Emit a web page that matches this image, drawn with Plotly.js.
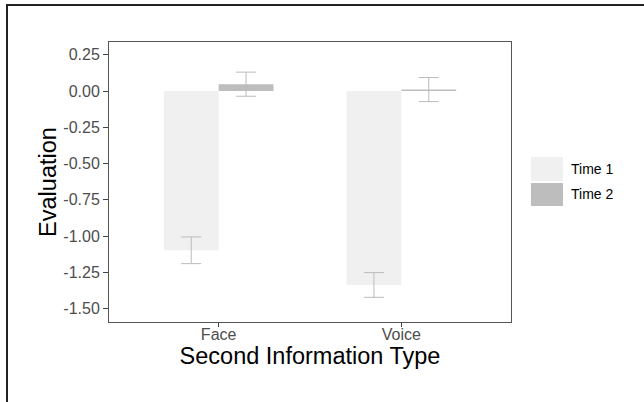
<!DOCTYPE html>
<html>
<head>
<meta charset="utf-8">
<script src="https://cdn.plot.ly/plotly-3.0.1.min.js"></script>
<style>
  html, body { margin: 0; padding: 0; background: #fff; }
  #chart { width: 644px; height: 402px; }
</style>
</head>
<body>
<div id="chart"></div>
<script>
const categories = ["Face", "Voice"];
const seriesNames = ["Time 1", "Time 2"];
const time1Values = [-1.097, -1.336];
const time1Errors = [0.092, 0.085];
const time2Values = [0.047, 0.01];
const time2Errors = [0.083, 0.083];
const yTickVals = [0.25, 0, -0.25, -0.5, -0.75, -1.0, -1.25, -1.5];
const yTickText = ["0.25", "0.00", "-0.25", "-0.50", "-0.75", "-1.00", "-1.25", "-1.50"];
const seriesColors = ["#f0f0f0", "#bdbdbd"];

const errStyle = {type: "data", visible: true, thickness: 1, width: 10, color: "#bbbbbb"};

const traces = [
  {
    type: "bar", name: seriesNames[0], x: categories, y: time1Values,
    marker: {color: seriesColors[0], line: {width: 0}},
    error_y: Object.assign({array: time1Errors}, errStyle),
    showlegend: false, hoverinfo: "x+y"
  },
  {
    type: "bar", name: seriesNames[1], x: categories, y: time2Values,
    marker: {color: seriesColors[1], line: {width: 0}},
    error_y: Object.assign({array: time2Errors}, errStyle),
    showlegend: false, hoverinfo: "x+y"
  }
];

const W = 644, H = 402;
const mL = 109, mR = 133, mT = 42, mB = 80;
const pw = W - mL - mR, ph = H - mT - mB;
const px = v => (v - mL) / pw;
const py = v => (H - mB - v) / ph;

const shapes = [
  {type: "line", xref: "paper", yref: "paper", x0: px(7), x1: px(7), y0: py(402), y1: py(5), line: {color: "#222", width: 2}},
  {type: "line", xref: "paper", yref: "paper", x0: px(6), x1: px(644), y0: py(5), y1: py(5), line: {color: "#222", width: 2}},
  {type: "rect", xref: "paper", yref: "paper", x0: px(531), x1: px(563), y0: py(181), y1: py(157), fillcolor: seriesColors[0], line: {width: 0}},
  {type: "rect", xref: "paper", yref: "paper", x0: px(531), x1: px(563), y0: py(206), y1: py(183), fillcolor: seriesColors[1], line: {width: 0}}
];

const legendFont = {family: "Liberation Sans, Arial, sans-serif", size: 14, color: "#000"};
const annotations = [
  {xref: "paper", yref: "paper", x: px(569), y: py(169), text: seriesNames[0], showarrow: false, xanchor: "left", yanchor: "middle", font: legendFont},
  {xref: "paper", yref: "paper", x: px(569), y: py(193.5), text: seriesNames[1], showarrow: false, xanchor: "left", yanchor: "middle", font: legendFont}
];

const layout = {
  width: W, height: H,
  margin: {l: mL, r: mR, t: mT, b: mB, pad: 0},
  paper_bgcolor: "#fff", plot_bgcolor: "#fff",
  font: {family: "Liberation Sans, Arial, sans-serif", color: "#000"},
  barmode: "group", bargap: 0.4, bargroupgap: 0,
  showlegend: false,
  xaxis: {
    type: "category", range: [-0.6, 1.6],
    showgrid: false, zeroline: false,
    showline: true, mirror: true, linecolor: "#555", linewidth: 1,
    ticks: "outside", ticklen: 4, tickcolor: "#444", tickwidth: 1,
    ticklabelstandoff: -6,
    tickfont: {size: 16, color: "#4d4d4d"},
    title: {text: "Second Information Type", font: {size: 23.5, color: "#000"}, standoff: 4}
  },
  yaxis: {
    range: [-1.591, 0.3375],
    tickvals: yTickVals, ticktext: yTickText,
    showgrid: false, zeroline: false,
    showline: true, mirror: true, linecolor: "#555", linewidth: 1,
    ticks: "outside", ticklen: 5, tickcolor: "#444", tickwidth: 1,
    tickfont: {size: 16, color: "#4d4d4d"},
    title: {text: "Evaluation", font: {size: 23.5, color: "#000"}, standoff: 0}
  },
  shapes: shapes,
  annotations: annotations
};

Plotly.newPlot("chart", traces, layout, {displayModeBar: false, staticPlot: true});
</script>
</body>
</html>
